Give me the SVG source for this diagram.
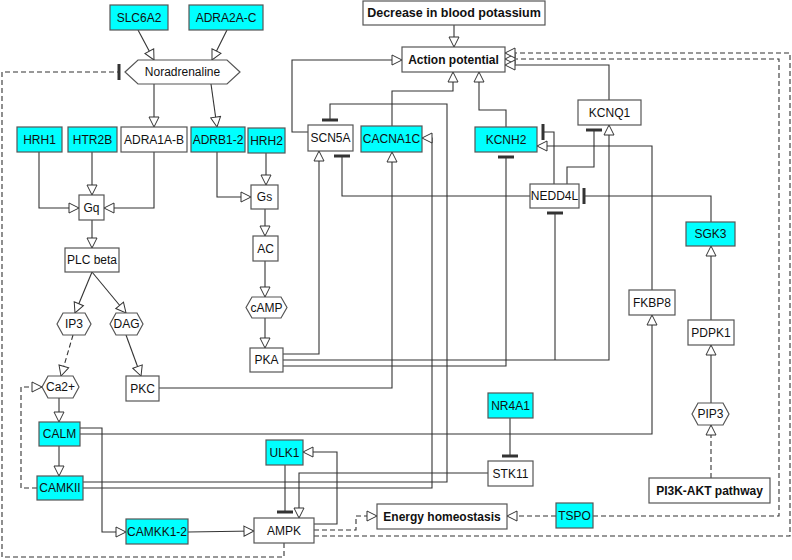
<svg xmlns="http://www.w3.org/2000/svg" width="792" height="560" viewBox="0 0 792 560">
<style>
.n{stroke:#555;stroke-width:1.2;fill:#fff}
.c{fill:#00ffff}
.t{font-family:"Liberation Sans",Arial,sans-serif;font-size:12px;fill:#111;text-anchor:middle;dominant-baseline:central}
.b{font-weight:bold}
.e{fill:none;stroke:#333;stroke-width:1.1}
.d{stroke-dasharray:5,3}
.a{marker-end:url(#arr)}
.i{marker-end:url(#bar)}
</style>
<defs>
<marker id="arr" viewBox="0 0 12 12" refX="11" refY="6" markerWidth="12" markerHeight="12" orient="auto" markerUnits="userSpaceOnUse">
<path d="M1,1 L11,6 L1,11 Z" fill="#fff" stroke="#333" stroke-width="1"/>
</marker>
<marker id="bar" viewBox="0 0 4 18" refX="2" refY="9" markerWidth="4" markerHeight="18" orient="auto" markerUnits="userSpaceOnUse">
<rect x="0.5" y="1" width="3" height="16" fill="#333"/>
</marker>
</defs>
<rect width="792" height="560" fill="#fff"/>
<g id="connectors">
<path class="e a" d="M138,30 L154,60"/>
<path class="e a" d="M227,30 L212,60"/>
<path class="e a" d="M154,84 L154,127"/>
<path class="e a" d="M211,84 L217,127"/>
<path class="e d i" d="M284,543 L284,557 L2,557 L2,72 L119,72"/>
<path class="e a" d="M39,152 L39,208 L79,208"/>
<path class="e a" d="M92,152 L92,195"/>
<path class="e a" d="M154,152 L154,208 L104,208"/>
<path class="e a" d="M217,152 L217,197 L251,197"/>
<path class="e a" d="M266,153 L266,185"/>
<path class="e a" d="M265,209 L265,236"/>
<path class="e a" d="M265,261 L265,297"/>
<path class="e a" d="M265,318 L265,348"/>
<path class="e a" d="M92,220 L92,248"/>
<path class="e a" d="M92,272 L75,313"/>
<path class="e a" d="M92,272 L126,313"/>
<path class="e d a" d="M73,335 L61,376"/>
<path class="e a" d="M126,335 L141,376"/>
<path class="e a" d="M59,398 L59,422"/>
<path class="e a" d="M59,446 L59,476"/>
<path class="e d a" d="M37,488 L21,488 L21,387 L42,387"/>
<path class="e a" d="M80,428 L102,428 L102,532 L126,532"/>
<path class="e a" d="M188,532 L254,531"/>
<path class="e a" d="M80,434 L652,434 L652,315"/>
<path class="e i" d="M83,482 L447,482 L447,104 L330,104 L330,120"/>
<path class="e a" d="M83,488 L432,488 L432,138 L422,138"/>
<path class="e a" d="M159,388 L392,388 L392,152"/>
<path class="e a" d="M283,354 L319,354 L319,151"/>
<path class="e a" d="M283,360 L609,360 L609,125"/>
<path class="e i" d="M555,360 L555,213"/>
<path class="e i" d="M283,366 L506,366 L506,157"/>
<path class="e i" d="M285,465 L285,512"/>
<path class="e a" d="M314,524 L337,524 L337,452 L303,452"/>
<path class="e a" d="M488,473 L299,473 L299,518"/>
<path class="e i" d="M510,418 L510,456"/>
<path class="e d a" d="M314,530 L356,530 L356,516 L377,516"/>
<path class="e d a" d="M556,516 L507,516"/>
<path class="e d a" d="M593,516 L779,516 L779,59 L505,59"/>
<path class="e d a" d="M314,536 L790,536 L790,53 L505,53"/>
<path class="e a" d="M454,25 L454,47"/>
<path class="e a" d="M308,132 L292,132 L292,60 L402,60"/>
<path class="e a" d="M392,126 L392,91 L453,91 L453,72"/>
<path class="e a" d="M506,127 L506,110 L479,110 L479,72"/>
<path class="e a" d="M609,100 L609,65 L505,65"/>
<path class="e i" d="M530,196 L342,196 L342,156"/>
<path class="e i" d="M554,184 L554,132 L543,132"/>
<path class="e i" d="M567,184 L567,167 L594,167 L594,130"/>
<path class="e i" d="M711,222 L711,196 L584,196"/>
<path class="e a" d="M652,290 L652,146 L537,146"/>
<path class="e d a" d="M711,478 L711,425"/>
<path class="e a" d="M711,403 L711,345"/>
<path class="e a" d="M711,320 L711,246"/>
</g>
<g id="SLC6A2"><rect class="n c" x="110" y="5" width="58" height="25"/><text class="t" x="139" y="17.5">SLC6A2</text></g>
<g id="ADRA2A-C"><rect class="n c" x="189" y="5" width="74" height="25"/><text class="t" x="226" y="17.5">ADRA2A-C</text></g>
<g id="Noradrenaline"><polygon class="n" points="125,72 138,60 227,60 240,72 227,84 138,84"/><text class="t" x="182.5" y="72">Noradrenaline</text></g>
<g id="HRH1"><rect class="n c" x="17" y="127" width="45" height="25"/><text class="t" x="39.5" y="139.5">HRH1</text></g>
<g id="HTR2B"><rect class="n c" x="68" y="127" width="49" height="25"/><text class="t" x="92.5" y="139.5">HTR2B</text></g>
<g id="ADRA1A-B"><rect class="n" x="121" y="127" width="66" height="25"/><text class="t" x="154" y="139.5">ADRA1A-B</text></g>
<g id="ADRB1-2"><rect class="n c" x="191" y="127" width="54" height="25"/><text class="t" x="218" y="139.5">ADRB1-2</text></g>
<g id="HRH2"><rect class="n c" x="248" y="128" width="37" height="25"/><text class="t" x="266.5" y="140.5">HRH2</text></g>
<g id="Gq"><rect class="n" x="79" y="195" width="25" height="25"/><text class="t" x="91.5" y="207.5">Gq</text></g>
<g id="Gs"><rect class="n" x="251" y="185" width="27" height="24"/><text class="t" x="264.5" y="197">Gs</text></g>
<g id="AC"><rect class="n" x="253" y="236" width="25" height="25"/><text class="t" x="265.5" y="248.5">AC</text></g>
<g id="cAMP"><polygon class="n" points="246,307.5 252,297 281,297 287,307.5 281,318 252,318"/><text class="t" x="266.5" y="307.5">cAMP</text></g>
<g id="PKA"><rect class="n" x="250" y="348" width="33" height="24"/><text class="t" x="266.5" y="360">PKA</text></g>
<g id="PLCbeta"><rect class="n" x="65" y="248" width="54" height="24"/><text class="t" x="92" y="260">PLC beta</text></g>
<g id="IP3"><polygon class="n" points="57,324 63,313 85,313 91,324 85,335 63,335"/><text class="t" x="74" y="324">IP3</text></g>
<g id="DAG"><polygon class="n" points="110,324 116,313 137,313 143,324 137,335 116,335"/><text class="t" x="126.5" y="324">DAG</text></g>
<g id="Ca2"><polygon class="n" points="42,387 48,376 73,376 79,387 73,398 48,398"/><text class="t" x="60.5" y="387">Ca2+</text></g>
<g id="PKC"><rect class="n" x="126" y="376" width="33" height="25"/><text class="t" x="142.5" y="388.5">PKC</text></g>
<g id="CALM"><rect class="n c" x="39" y="422" width="41" height="24"/><text class="t" x="59.5" y="434">CALM</text></g>
<g id="CAMKII"><rect class="n c" x="37" y="476" width="46" height="24"/><text class="t" x="60" y="488">CAMKII</text></g>
<g id="CAMKK1-2"><rect class="n c" x="126" y="519" width="62" height="25"/><text class="t" x="157" y="531.5">CAMKK1-2</text></g>
<g id="AMPK"><rect class="n" x="254" y="518" width="60" height="25"/><text class="t" x="284" y="530.5">AMPK</text></g>
<g id="ULK1"><rect class="n c" x="266" y="440" width="37" height="25"/><text class="t" x="284.5" y="452.5">ULK1</text></g>
<g id="STK11"><rect class="n" x="488" y="461" width="45" height="25"/><text class="t" x="510.5" y="473.5">STK11</text></g>
<g id="NR4A1"><rect class="n c" x="488" y="393" width="45" height="25"/><text class="t" x="510.5" y="405.5">NR4A1</text></g>
<g id="EnergyHomeostasis"><rect class="n" x="377" y="504" width="130" height="25"/><text class="t b" x="442" y="516.5">Energy homeostasis</text></g>
<g id="TSPO"><rect class="n c" x="556" y="503" width="37" height="25"/><text class="t" x="574.5" y="515.5">TSPO</text></g>
<g id="DecreasePotassium"><rect class="n" x="363" y="1" width="182" height="24"/><text class="t b" x="454" y="13" style="font-size:12.5px">Decrease in blood potassium</text></g>
<g id="ActionPotential"><rect class="n" x="402" y="47" width="103" height="25"/><text class="t b" x="453.5" y="59.5">Action potential</text></g>
<g id="SCN5A"><rect class="n" x="308" y="125" width="45" height="26"/><text class="t" x="330.5" y="138">SCN5A</text></g>
<g id="CACNA1C"><rect class="n c" x="361" y="126" width="61" height="26"/><text class="t" x="391.5" y="139">CACNA1C</text></g>
<g id="KCNH2"><rect class="n c" x="475" y="127" width="62" height="25"/><text class="t" x="506" y="139.5">KCNH2</text></g>
<g id="KCNQ1"><rect class="n" x="578" y="100" width="63" height="25"/><text class="t" x="609.5" y="112.5">KCNQ1</text></g>
<g id="NEDD4L"><rect class="n" x="530" y="184" width="49" height="24"/><text class="t" x="554.5" y="196">NEDD4L</text></g>
<g id="SGK3"><rect class="n c" x="686" y="222" width="49" height="24"/><text class="t" x="710.5" y="234">SGK3</text></g>
<g id="FKBP8"><rect class="n" x="629" y="290" width="46" height="25"/><text class="t" x="652" y="302.5">FKBP8</text></g>
<g id="PDPK1"><rect class="n" x="688" y="320" width="46" height="25"/><text class="t" x="711" y="332.5">PDPK1</text></g>
<g id="PIP3"><polygon class="n" points="692,414 698,403 723,403 729,414 723,425 698,425"/><text class="t" x="710.5" y="414">PIP3</text></g>
<g id="PI3K-AKT"><rect class="n" x="649" y="478" width="121" height="25"/><text class="t b" x="709.5" y="490.5">PI3K-AKT pathway</text></g>
</svg>
